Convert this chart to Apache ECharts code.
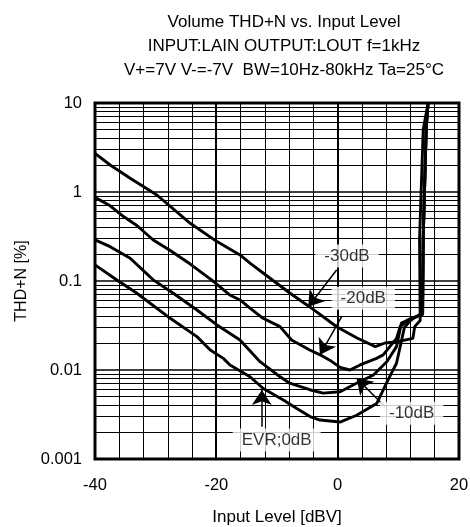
<!DOCTYPE html>
<html><head><meta charset="utf-8">
<script src="https://cdn.jsdelivr.net/npm/echarts@6/dist/echarts.min.js"></script>
<style>html,body{margin:0;padding:0;background:#fff}#c{width:470px;height:527px}</style>
</head><body><div id="c"></div>
<script>
// ---- data ----
const xTickLabels = [-40, -20, 0, 20];
const yTickLabels = ['0.001', '0.01', '0.1', '1', '10'];
const decades = [0.001, 0.01, 0.1, 1];
const minorSteps = [2, 3, 4, 5, 6, 7, 8, 9];
const majorX = [-20, 0];

const x30 = [-40, -37.5, -34.2, -29.8, -24.3, -19.9, -16.1, -14.4, -11.2, -7.9, -4.6, -0.1, 3.2, 4.5, 6.2, 7.8, 9.9, 12.4, 12.7, 13.6, 13.5, 14.1, 14.9];
const y30 = [2.72, 2.01, 1.43, 0.925, 0.445, 0.277, 0.196, 0.158, 0.108, 0.0733, 0.0511, 0.0304, 0.0229, 0.0208, 0.0183, 0.0201, 0.0208, 0.0227, 0.0307, 0.036, 0.3, 5.0, 10];

const x20 = [-40, -37.5, -35.3, -33.1, -30.4, -27.6, -24.3, -20.8, -17.8, -16.1, -14.4, -12.3, -9.5, -7.6, -4.6, -2.9, -1.3, 0.4, 2.0, 3.7, 6.4, 7.5, 9.7, 10.3, 11.6, 13.0, 14.0, 14.1, 14.6, 14.9];
const y20 = [0.87, 0.70, 0.53, 0.42, 0.289, 0.22, 0.155, 0.103, 0.0697, 0.0612, 0.0493, 0.0381, 0.0307, 0.0217, 0.0168, 0.0148, 0.0129, 0.0107, 0.0100, 0.0114, 0.0135, 0.0148, 0.0227, 0.0307, 0.0365, 0.0397, 0.042, 0.3, 5.2, 10];

const x10 = [-40, -37.5, -34.2, -30.4, -27.1, -23.2, -19.9, -16.1, -12.8, -9.5, -7.9, -4.6, -2.4, 0.4, 3.1, 5.9, 8.1, 9.7, 10.5, 11.6, 13.0, 14.0, 14.1, 14.6, 14.9];
const y10 = [0.29, 0.243, 0.18, 0.103, 0.0728, 0.0472, 0.0321, 0.0217, 0.0124, 0.0084, 0.0071, 0.006, 0.0055, 0.0057, 0.0071, 0.0088, 0.0124, 0.0183, 0.0336, 0.0365, 0.0397, 0.043, 0.3, 5.2, 10];

const x0 = [-40, -36.4, -33.1, -27.6, -23.2, -21.0, -18.85, -17.75, -14.45, -12.26, -8.96, -6.75, -4.56, -2.9, 0.38, 3.13, 6.43, 8.2, 9.7, 11.0, 12.0, 13.0, 14.0, 14.1, 14.6, 14.9];
const y0 = [0.152, 0.1026, 0.0728, 0.0381, 0.0237, 0.0168, 0.0135, 0.0114, 0.0084, 0.0062, 0.0046, 0.0037, 0.003, 0.00274, 0.0026, 0.0031, 0.0042, 0.0075, 0.0119, 0.03, 0.036, 0.04, 0.044, 0.3, 5.2, 10];

const annoText = ['-30dB', '-20dB', '-10dB', 'EVR;0dB'];
const annoX = [1.54, 4.22, 12.2, -10.05];
const annoY = [0.191, 0.064, 0.00326, 0.00163];
const arrowFromX = [-0.17, 0.66, 7.8, -12.5];
const arrowFromY = [0.133, 0.0397, 0.00387, 0.00231];
const arrowToX = [-4.84, -2.92, 3.13, -12.5];
const arrowToY = [0.0514, 0.0148, 0.00807, 0.00596];

// ---- build ----
const FONT = "'Liberation Sans', Arial, sans-serif";
const zip = (xs, ys) => xs.map((x, i) => [x, ys[i]]);
const XMIN = -40, XMAX = 20, YMIN = 0.001, YMAX = 10;

const hMinor = [];
decades.forEach(d => minorSteps.forEach(m => hMinor.push([0, d * m, 1])));
const vMajor = majorX.map(x => [1, x, 2]);
const gridData = hMinor.concat(vMajor);

function crisp(v, w) { return w % 2 === 1 ? Math.round(v - 0.5) + 0.5 : Math.round(v); }

const curveStyle = { color: '#000', width: 2.9 };
function curve(name, xs, ys) {
  return { name, type: 'line', data: zip(xs, ys), showSymbol: false, symbol: 'none',
    lineStyle: curveStyle, itemStyle: { color: '#000' }, z: 3, animation: false, silent: true };
}

const option = {
  backgroundColor: '#fff',
  animation: false,
  title: {
    text: 'Volume THD+N vs. Input Level\nINPUT:LAIN OUTPUT:LOUT f=1kHz\nV+=7V V-=-7V  BW=10Hz-80kHz Ta=25°C',
    left: 279, top: 5, textAlign: 'center',
    textStyle: { fontFamily: FONT, fontSize: 17, fontWeight: 'normal', color: '#000', lineHeight: 24 }
  },
  grid: { left: 95, right: 11, top: 103, bottom: 68, show: true, borderColor: '#000', borderWidth: 3,
    backgroundColor: 'transparent', outerBoundsMode: 'none', containLabel: false },
  xAxis: {
    type: 'value', min: XMIN, max: XMAX, interval: 4,
    axisLine: { show: false }, axisTick: { show: false },
    axisLabel: { formatter: v => (xTickLabels.indexOf(v) >= 0 ? String(v) : ''), fontFamily: FONT, fontSize: 16.5, color: '#000', margin: 18 },
    splitLine: { show: true, lineStyle: { color: '#000', width: 1 } },
    name: 'Input Level [dBV]', nameLocation: 'middle', nameGap: 50,
    nameTextStyle: { fontFamily: FONT, fontSize: 17, color: '#000' }
  },
  yAxis: {
    type: 'log', logBase: 10, min: YMIN, max: YMAX,
    axisLine: { show: false }, axisTick: { show: false },
    axisLabel: { formatter: v => yTickLabels[Math.round(Math.log10(v)) + 3], fontFamily: FONT, fontSize: 16.5, color: '#000', margin: 13 },
    splitLine: { show: true, lineStyle: { color: '#000', width: 1.6 } },
    name: 'THD+N [%]', nameLocation: 'middle', nameGap: 61, nameRotate: 90,
    nameTextStyle: { fontFamily: FONT, fontSize: 16, color: '#000' }
  },
  series: [
    {
      type: 'custom', z: 1, silent: true, animation: false, data: gridData,
      encode: { x: 1 },
      renderItem(params, api) {
        const kind = api.value(0), v = api.value(1), w = api.value(2);
        let p1, p2;
        if (kind === 0) { p1 = api.coord([XMIN, v]); p2 = api.coord([XMAX, v]); const y = crisp(p1[1], w); p1[1] = y; p2[1] = y; }
        else { p1 = api.coord([v, YMIN]); p2 = api.coord([v, YMAX]); const x = crisp(p1[0], w); p1[0] = x; p2[0] = x; }
        return { type: 'line', shape: { x1: p1[0], y1: p1[1], x2: p2[0], y2: p2[1] }, style: { stroke: '#000', lineWidth: w } };
      }
    },
    curve('-30dB', x30, y30),
    curve('-20dB', x20, y20),
    curve('-10dB', x10, y10),
    curve('EVR;0dB', x0, y0),
    {
      type: 'scatter', z: 6, silent: true, animation: false,
      symbolSize: 1, itemStyle: { color: 'rgba(0,0,0,0)' },
      data: annoText.map((t, i) => ({ value: [annoX[i], annoY[i]], name: t })),
      label: { show: true, position: 'inside', formatter: p => p.name, fontFamily: FONT, fontSize: 17, color: '#000',
        backgroundColor: '#fff', padding: [3, 9] },
      markLine: {
        silent: true, animation: false, symbol: ['none', 'arrow'], symbolSize: 15,
        label: { show: false }, lineStyle: { color: '#000', width: 1.5, type: 'solid' },
        emphasis: { disabled: true },
        data: annoText.map((t, i) => [{ coord: [arrowFromX[i], arrowFromY[i]] }, { coord: [arrowToX[i], arrowToY[i]] }])
      }
    }
  ]
};

const chart = echarts.init(document.getElementById('c'), null, { renderer: 'canvas' });
chart.setOption(option);
</script>
</body></html>
